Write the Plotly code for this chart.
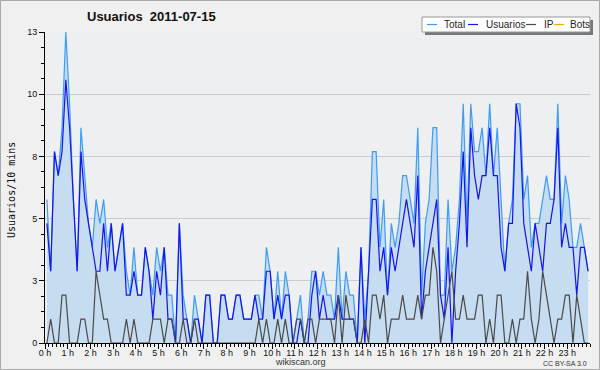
import plotly.graph_objects as go

# 10-minute slots, 144 per day
total = [6, 3, 8, 7, 9, 13, 10, 6, 3, 9, 7, 5, 4, 6, 5, 6, 4, 5, 3, 4, 5, 3, 2, 4,
         2, 2, 4, 3, 2, 4, 3, 4, 2, 2, 0, 5, 2, 1, 0, 2, 1, 0, 2, 2, 0, 0, 2, 2,
         1, 1, 2, 2, 1, 1, 1, 2, 2, 1, 4, 3, 1, 3, 1, 3, 2, 0, 1, 2, 0, 1, 3, 3,
         2, 3, 2, 2, 1, 4, 1, 3, 2, 2, 0, 4, 1, 3, 8, 8, 4, 6, 2, 5, 4, 5, 7, 7,
         6, 5, 9, 2, 5, 6, 9, 9, 2, 2, 6, 3, 4, 6, 10, 5, 10, 8, 8, 9, 7, 10, 7, 9,
         6, 3, 5, 6, 10, 10, 6, 7, 4, 5, 5, 6, 7, 6, 6, 10, 5, 7, 6, 4, 4, 5, 4, 3]
usuarios = [5, 3, 8, 7, 8, 11, 9, 6, 3, 8, 6, 5, 4, 3, 3, 5, 3, 5, 3, 4, 5, 2, 2, 3,
            2, 2, 4, 3, 1, 3, 2, 4, 1, 1, 0, 5, 1, 1, 0, 1, 1, 0, 2, 2, 0, 0, 2, 2,
            1, 1, 2, 2, 1, 1, 1, 2, 1, 1, 3, 3, 1, 2, 1, 2, 2, 0, 0, 1, 0, 0, 2, 3,
            1, 2, 1, 1, 1, 2, 1, 1, 1, 1, 0, 4, 0, 3, 6, 6, 3, 4, 2, 4, 3, 4, 5, 6,
            5, 4, 7, 1, 3, 4, 5, 6, 2, 1, 4, 0, 3, 5, 8, 4, 9, 7, 6, 7, 7, 9, 7, 7,
            4, 3, 5, 5, 10, 9, 5, 4, 3, 5, 4, 3, 5, 5, 6, 9, 4, 5, 4, 4, 2, 4, 4, 3]
ip = [0, 1, 0, 0, 2, 2, 0, 0, 0, 1, 1, 0, 0, 3, 2, 1, 1, 0, 0, 0, 0, 1, 0, 1,
      0, 0, 0, 0, 1, 1, 1, 0, 1, 1, 0, 0, 1, 0, 0, 1, 0, 0, 0, 0, 0, 0, 0, 0,
      0, 0, 0, 0, 0, 0, 0, 0, 1, 0, 1, 0, 0, 1, 0, 1, 0, 0, 1, 1, 0, 1, 1, 0,
      1, 1, 1, 1, 0, 2, 0, 2, 1, 1, 0, 0, 1, 0, 2, 2, 1, 2, 0, 1, 1, 1, 2, 1,
      1, 1, 2, 1, 2, 2, 4, 3, 0, 1, 2, 3, 1, 1, 2, 1, 1, 1, 2, 2, 0, 1, 0, 2,
      2, 0, 0, 1, 0, 1, 1, 3, 1, 0, 1, 3, 2, 1, 0, 1, 1, 2, 2, 0, 2, 1, 0, 0]
bots = [0] * 144

hour_ticks = list(range(24))
hour_labels = [f"{h} h" for h in hour_ticks]
y_ticks = [0, 2.6, 5.2, 7.8, 10.4, 13]
y_labels = ["0", "3", "5", "8", "10", "13"]

x = [(i + 0.5) / 6 for i in range(len(total))]

C_TOTAL = "#3d9cf5"
C_USR = "#1414f0"
C_IP = "#4a4a4a"
C_BOTS = "#ffa500"
FILL = "#c6dcf0"
SANS = "Liberation Sans"

fig = go.Figure()
fig.add_trace(go.Scatter(x=x, y=bots, mode="lines", line=dict(color=C_BOTS, width=1.2), name="Bots"))
fig.add_trace(go.Scatter(x=x, y=total, mode="lines", fill="tozeroy", fillcolor=FILL,
                         line=dict(color=C_TOTAL, width=1.2), name="Total"))
fig.add_trace(go.Scatter(x=x, y=usuarios, mode="lines", line=dict(color=C_USR, width=1.2), name="Usuarios"))
fig.add_trace(go.Scatter(x=x, y=ip, mode="lines", line=dict(color=C_IP, width=1.2), name="IP"))

L, R, T, B = 45, 590, 32, 343
W, H = 600, 370


def px(xp):
    return (xp - L) / (R - L)


def py(yp):
    return (B - yp) / (B - T)


shapes = []
annotations = []

# outer frame
shapes.append(dict(type="rect", xref="paper", yref="paper", x0=px(0.5), x1=px(599.5),
                   y0=py(0.5), y1=py(369.5), line=dict(color="#a8a8a8", width=1), layer="below"))

# legend
shapes.append(dict(type="rect", xref="paper", yref="paper", x0=px(425), x1=px(593),
                   y0=py(20), y1=py(35), fillcolor="#777777", line=dict(width=0)))
shapes.append(dict(type="rect", xref="paper", yref="paper", x0=px(422), x1=px(590),
                   y0=py(17), y1=py(32), fillcolor="#ffffff", line=dict(color="#999999", width=1)))
legend_items = [("Total", C_TOTAL, 427, 442), ("Usuarios", C_USR, 468, 484),
                ("IP", C_IP, 526, 542), ("Bots", C_BOTS, 554, 568)]
for name, col, lx, tx in legend_items:
    shapes.append(dict(type="line", xref="paper", yref="paper", x0=px(lx), x1=px(lx + 10),
                       y0=py(24.5), y1=py(24.5), line=dict(color=col, width=1.2)))
    annotations.append(dict(text=name, xref="paper", yref="paper", x=px(tx), y=py(24.5),
                            xanchor="left", yanchor="middle", showarrow=False,
                            font=dict(family=SANS, size=10, color="#222222")))

# title
annotations.append(dict(text="<b>Usuarios&nbsp; 2011-07-15</b>", xref="paper", yref="paper",
                        x=px(85), y=py(16), xanchor="left", yanchor="middle", showarrow=False,
                        font=dict(family=SANS, size=13, color="#111111")))
# footer
annotations.append(dict(text="wikiscan.org", xref="paper", yref="paper", x=px(300), y=py(362),
                        xanchor="center", yanchor="middle", showarrow=False,
                        font=dict(family=SANS, size=9, color="#333333")))
annotations.append(dict(text="CC BY-SA 3.0", xref="paper", yref="paper", x=px(589), y=py(363),
                        xanchor="right", yanchor="middle", showarrow=False,
                        font=dict(family=SANS, size=7, color="#333333")))
# y title
annotations.append(dict(text="Usuarios/10 mins", xref="paper", yref="paper", x=px(11), y=py(190),
                        xanchor="center", yanchor="middle", showarrow=False, textangle=-90,
                        font=dict(family="DejaVu Sans Mono", size=10, color="#111111")))

fig.update_layout(
    width=W, height=H,
    margin=dict(l=L, r=W - R, t=T, b=H - B, pad=0, autoexpand=False),
    paper_bgcolor="#f0f0f0",
    plot_bgcolor="#eeeff1",
    showlegend=False,
    shapes=shapes,
    annotations=annotations,
    xaxis=dict(range=[0, 24], tickmode="array", tickvals=hour_ticks, ticktext=hour_labels,
               automargin=False, ticklabelstandoff=-4,
               showgrid=False, zeroline=False, showline=True, linecolor="#000000", linewidth=1,
               ticks="outside", ticklen=5, tickcolor="#000000", tickwidth=1,
               tickfont=dict(family=SANS, size=9, color="#111111"),
               minor=dict(dtick=1 / 6, tick0=0, ticks="outside", ticklen=3, tickcolor="#000000",
                          showgrid=False),
               fixedrange=True),
    yaxis=dict(range=[0, 13], tickmode="array", tickvals=y_ticks, ticktext=y_labels,
               automargin=False,
               showgrid=True, gridcolor="#cbcbcb", gridwidth=1, zeroline=False,
               showline=True, linecolor="#000000", linewidth=1,
               ticks="outside", ticklen=5, tickcolor="#000000", tickwidth=1,
               tickfont=dict(family=SANS, size=9, color="#111111"),
               minor=dict(dtick=0.65, tick0=0, ticks="outside", ticklen=3, tickcolor="#000000",
                          showgrid=False),
               fixedrange=True),
)

fig.write_html("out.html", config={"displayModeBar": False},
               post_script="document.body.style.margin='0';document.body.style.padding='0';")
